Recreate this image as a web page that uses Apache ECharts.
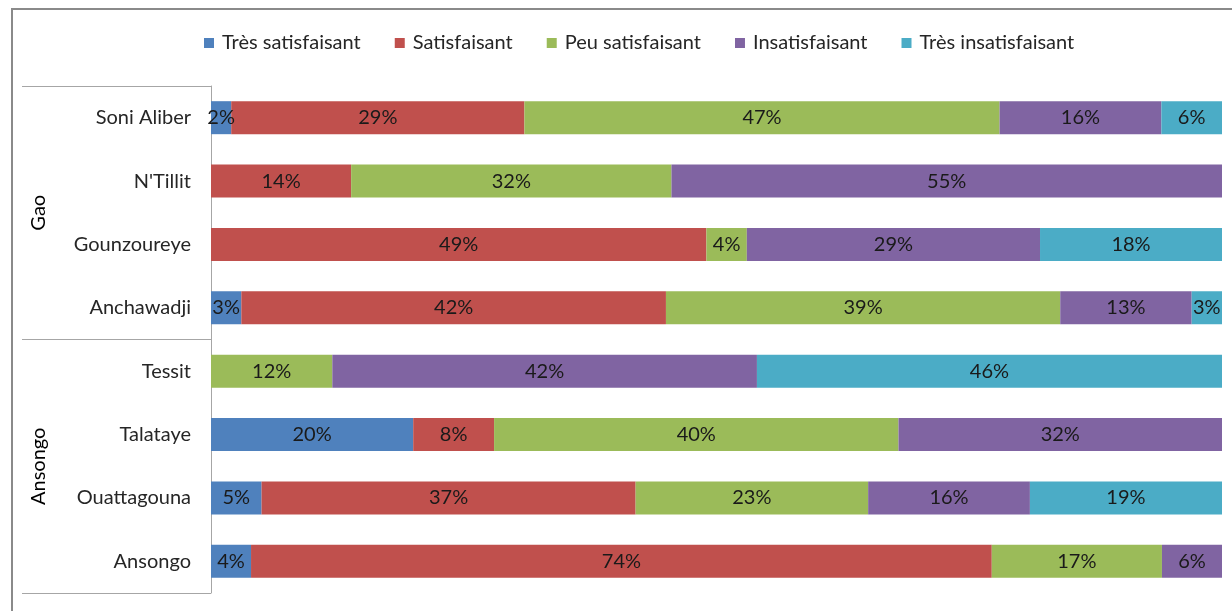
<!DOCTYPE html>
<html>
<head>
<meta charset="utf-8">
<script src="https://cdn.jsdelivr.net/npm/echarts@6/dist/echarts.min.js"></script>
<style>
  html, body { margin: 0; padding: 0; background: #fff; }
  #chart { width: 1232px; height: 611px; }
</style>
</head>
<body>
<div id="chart"></div>
<script>
// communes, top to bottom
const communes = ['Soni Aliber', "N'Tillit", 'Gounzoureye', 'Anchawadji', 'Tessit', 'Talataye', 'Ouattagouna', 'Ansongo']
const cercles = ['Gao', 'Ansongo']

// percentages
const tresSatisfaisant = [2, 0, 0, 3, 0, 20, 5, 4]
const satisfaisant = [29, 14, 49, 42, 0, 8, 37, 74]
const peuSatisfaisant = [47, 32, 4, 39, 12, 40, 23, 17]
const insatisfaisant = [16, 55, 29, 13, 42, 32, 16, 6]
const tresInsatisfaisant = [6, 0, 18, 3, 46, 0, 19, 0]

const seriesNames = ['Très satisfaisant', 'Satisfaisant', 'Peu satisfaisant', 'Insatisfaisant', 'Très insatisfaisant']
const seriesValues = [tresSatisfaisant, satisfaisant, peuSatisfaisant, insatisfaisant, tresInsatisfaisant]
const colors = ['#4F81BD', '#C0504D', '#9BBB59', '#8064A2', '#4BACC6']

const FONT = 'Lato, "Open Sans", sans-serif'
const FS = 20

// 100% stacked: each row scaled by its own total
const rowTotals = communes.map((c, i) => seriesValues.reduce((s, arr) => s + arr[i], 0))

const chart = echarts.init(document.getElementById('chart'))

const option = {
  animation: false,
  color: colors,
  textStyle: { fontFamily: FONT },
  graphic: [{
    type: 'rect',
    shape: { x: 12, y: 9, width: 1400, height: 800 },
    style: { fill: 'none', stroke: '#8a8a8a', lineWidth: 2 },
    silent: true
  }],
  legend: {
    top: 28,
    left: 199,
    itemWidth: 10,
    itemHeight: 10,
    itemGap: 34,
    icon: 'rect',
    textStyle: { fontFamily: FONT, fontSize: FS, color: '#262626', padding: [0, 0, 0, 3] },
    data: seriesNames
  },
  grid: {
    left: 211,
    right: 10,
    top: 86,
    bottom: 18,
    containLabel: false
  },
  xAxis: {
    type: 'value',
    min: 0,
    max: 100,
    show: false
  },
  yAxis: [
    {
      type: 'category',
      inverse: true,
      data: communes,
      axisLine: { show: false },
      axisTick: { show: false },
      axisLabel: { margin: 20, fontFamily: FONT, fontSize: FS, color: '#262626' }
    },
    {
      type: 'category',
      inverse: true,
      position: 'left',
      data: cercles,
      axisLine: { show: true, lineStyle: { color: '#a6a6a6', width: 1 } },
      axisTick: { show: true, length: 189, interval: 0, lineStyle: { color: '#a6a6a6', width: 1 } },
      axisLabel: { rotate: 90, margin: 162, fontFamily: FONT, fontSize: FS, color: '#000' }
    }
  ],
  series: seriesNames.map((name, k) => ({
    name: name,
    type: 'bar',
    stack: 'total',
    yAxisIndex: 0,
    barWidth: 33,
    data: seriesValues[k].map((v, i) => ({ value: v / rowTotals[i] * 100, raw: v })),
    label: {
      show: true,
      position: 'inside',
      fontFamily: FONT,
      fontSize: FS,
      color: '#1a1a1a',
      formatter: p => p.data.raw ? p.data.raw + '%' : ''
    }
  }))
}

chart.setOption(option)
</script>
</body>
</html>
